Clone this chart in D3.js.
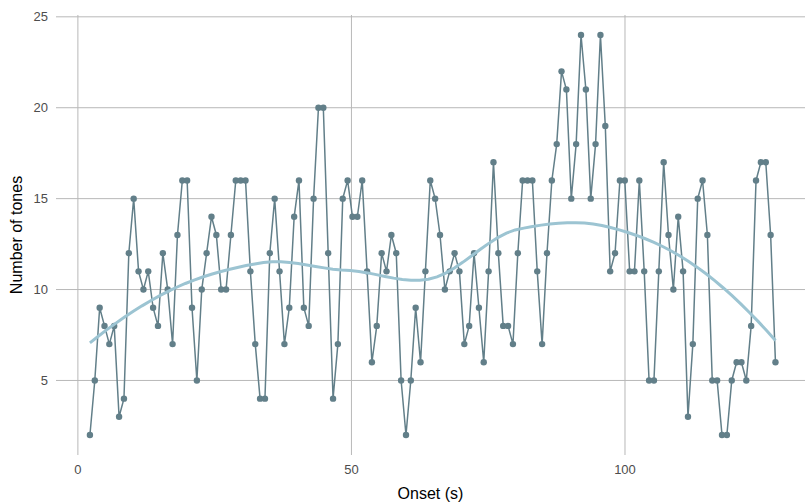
<!DOCTYPE html>
<html>
<head>
<meta charset="utf-8">
<script src="https://cdn.jsdelivr.net/npm/d3@7"></script>
<style>
body { margin: 0; background: #fff; }
</style>
</head>
<body>
<script>
// onset of each tone (s)
var onsets = [2.20,3.09,3.98,4.87,5.75,6.64,7.53,8.42,9.31,10.20,11.09,11.98,12.86,13.75,14.64,15.53,16.42,17.31,18.20,19.09,
  19.97,20.86,21.75,22.64,23.53,24.42,25.31,26.19,27.08,27.97,28.86,29.75,30.64,31.53,32.42,33.30,34.19,35.08,35.97,36.86,
  37.75,38.64,39.53,40.41,41.30,42.19,43.08,43.97,44.86,45.75,46.64,47.52,48.41,49.30,50.19,51.08,51.97,52.86,53.74,54.63,
  55.52,56.41,57.30,58.19,59.08,59.97,60.85,61.74,62.63,63.52,64.41,65.30,66.19,67.08,67.96,68.85,69.74,70.63,71.52,72.41,
  73.30,74.18,75.07,75.96,76.85,77.74,78.63,79.52,80.41,81.29,82.18,83.07,83.96,84.85,85.74,86.63,87.52,88.40,89.29,90.18,
  91.07,91.96,92.85,93.74,94.62,95.51,96.40,97.29,98.18,99.07,99.96,100.85,101.73,102.62,103.51,104.40,105.29,106.18,107.07,107.95,
  108.84,109.73,110.62,111.51,112.40,113.29,114.18,115.06,115.95,116.84,117.73,118.62,119.51,120.40,121.28,122.17,123.06,123.95,124.84,125.73,
  126.62,127.50];

// number of tones
var tones = [2,5,9,8,7,8,3,4,12,15,11,10,11,9,8,12,10,7,13,16,16,9,5,10,12,14,
  13,10,10,13,16,16,16,11,7,4,4,12,15,11,7,9,14,16,9,8,15,20,20,12,4,7,15,
  16,14,14,16,11,6,8,12,11,13,12,5,2,5,9,6,11,16,15,13,10,11,12,11,7,8,
  12,9,6,11,17,12,8,8,7,12,16,16,16,11,7,12,16,18,22,21,15,18,24,21,15,18,24,19,
  11,12,16,16,11,11,16,11,5,5,11,17,13,10,14,11,3,7,15,16,13,5,5,2,2,5,6,6,5,8,16,17,17,13,6];

var xTicks = [0,50,100];
var yTicks = [5,10,15,20,25];

var data = onsets.map(function(d,i){return {x:d, y:tones[i]};});

// local quadratic fit at x0 -> [value, slope]
function localFit(xs, ys, span, x0) {
  var n = xs.length, q = Math.floor(n*span);
  var dist = xs.map(function(x){return Math.abs(x-x0);}).sort(function(a,b){return a-b;});
  var h = dist[q-1];
  var s = [0,0,0,0,0], t = [0,0,0];
  for (var i=0;i<n;i++) {
    var u = Math.abs(xs[i]-x0)/h;
    if (u>=1) continue;
    var w = Math.pow(1-u*u*u,3);
    var dx = xs[i]-x0;
    var p = 1;
    for (var k=0;k<5;k++){ s[k]+=w*p; if(k<3) t[k]+=w*p*ys[i]; p*=dx; }
  }
  var det = function(m){return m[0][0]*(m[1][1]*m[2][2]-m[1][2]*m[2][1])-m[0][1]*(m[1][0]*m[2][2]-m[1][2]*m[2][0])+m[0][2]*(m[1][0]*m[2][1]-m[1][1]*m[2][0]);};
  var A = [[s[0],s[1],s[2]],[s[1],s[2],s[3]],[s[2],s[3],s[4]]];
  var B0 = [[t[0],s[1],s[2]],[t[1],s[2],s[3]],[t[2],s[3],s[4]]];
  var B1 = [[s[0],t[0],s[2]],[s[1],t[1],s[3]],[s[2],t[2],s[4]]];
  var dA = det(A);
  return [det(B0)/dA, det(B1)/dA];
}

// loess with kd-tree vertices + cubic hermite interpolation (like R's default surface)
function loessCurve(xs, ys, span, nOut) {
  var n = xs.length, fc = Math.floor(n*span*0.2);
  var lo = d3.min(xs), hi = d3.max(xs), mu = 0.005*(hi-lo);
  var verts = [lo-mu, hi+mu];
  function build(l, u) {
    if (u-l+1 <= fc) return;
    var m = Math.floor((l+u)/2);
    verts.push(xs[m-1]);
    build(l, m); build(m+1, u);
  }
  build(1, n);
  verts.sort(function(a,b){return a-b;});
  var fits = verts.map(function(v){return localFit(xs, ys, span, v);});
  return d3.range(nOut).map(function(i){
    var x = lo + (hi-lo)*i/(nOut-1);
    var j = Math.min(d3.bisectRight(verts, x)-1, verts.length-2);
    var x0 = verts[j], x1 = verts[j+1], h = x1-x0, t = (x-x0)/h;
    var f0 = fits[j], f1 = fits[j+1];
    var y = (2*t*t*t-3*t*t+1)*f0[0] + (t*t*t-2*t*t+t)*h*f0[1] + (-2*t*t*t+3*t*t)*f1[0] + (t*t*t-t*t)*h*f1[1];
    return {x:x, y:y};
  });
}

var smooth = loessCurve(onsets, tones, 0.75, 80);

var width = 805, height = 504;
var svg = d3.select("body").append("svg").attr("width",width).attr("height",height);

var x = d3.scaleLinear().domain([-4.0,132.9]).range([56,805]);
var y = d3.scaleLinear().domain([0.9,25.1]).range([455,15]);

// grid
svg.selectAll("line.hgrid")
      .data(yTicks)
      .enter().append("line")
      .attr("class","hgrid")
      .attr("x1",56).attr("x2",805)
      .attr("y1",function(d){return y(d);})
      .attr("y2",function(d){return y(d);})
      .attr("stroke","#b8b8b8")
      .attr("stroke-width",1);

svg.selectAll("line.vgrid")
      .data(xTicks)
      .enter().append("line")
      .attr("class","vgrid")
      .attr("y1",15).attr("y2",455)
      .attr("x1",function(d){return x(d);})
      .attr("x2",function(d){return x(d);})
      .attr("stroke","#b8b8b8")
      .attr("stroke-width",1);

// tick labels
svg.selectAll("text.ytick")
      .data(yTicks)
      .enter().append("text")
      .attr("class","ytick")
      .attr("x",48)
      .attr("y",function(d){return y(d);})
      .attr("dominant-baseline","central")
      .attr("text-anchor","end")
      .attr("font-family","Liberation Sans, Arial, sans-serif")
      .attr("font-size",13)
      .attr("fill","#4d4d4d")
      .text(function(d){return d;});

svg.selectAll("text.xtick")
      .data(xTicks)
      .enter().append("text")
      .attr("class","xtick")
      .attr("x",function(d){return x(d);})
      .attr("y",469)
      .attr("dominant-baseline","central")
      .attr("text-anchor","middle")
      .attr("font-family","Liberation Sans, Arial, sans-serif")
      .attr("font-size",13)
      .attr("fill","#4d4d4d")
      .text(function(d){return d;});

// axis titles
svg.append("text").text("Onset (s)")
      .attr("x",430.5).attr("y",493)
      .attr("dominant-baseline","central")
      .attr("text-anchor","middle")
      .attr("font-family","Liberation Sans, Arial, sans-serif")
      .attr("font-size",16)
      .attr("fill","#000");

svg.append("text").text("Number of tones")
      .attr("transform","translate(16,235) rotate(-90)")
      .attr("dominant-baseline","central")
      .attr("text-anchor","middle")
      .attr("font-family","Liberation Sans, Arial, sans-serif")
      .attr("font-size",16)
      .attr("fill","#000");

var plot = svg.append("g");

var line = d3.line().x(function(d){return x(d.x);}).y(function(d){return y(d.y);});

plot.append("path")
      .datum(data)
      .attr("d",line)
      .attr("fill","none")
      .attr("stroke","#627f89")
      .attr("stroke-width",1.5);

plot.selectAll("circle")
      .data(data)
      .enter().append("circle")
      .attr("cx",function(d){return x(d.x);})
      .attr("cy",function(d){return y(d.y);})
      .attr("r",3.2)
      .attr("fill","#627f89");

plot.append("path")
      .datum(smooth)
      .attr("d",line)
      .attr("fill","none")
      .attr("stroke","#9cc4d2")
      .attr("stroke-width",3);
</script>
</body>
</html>
